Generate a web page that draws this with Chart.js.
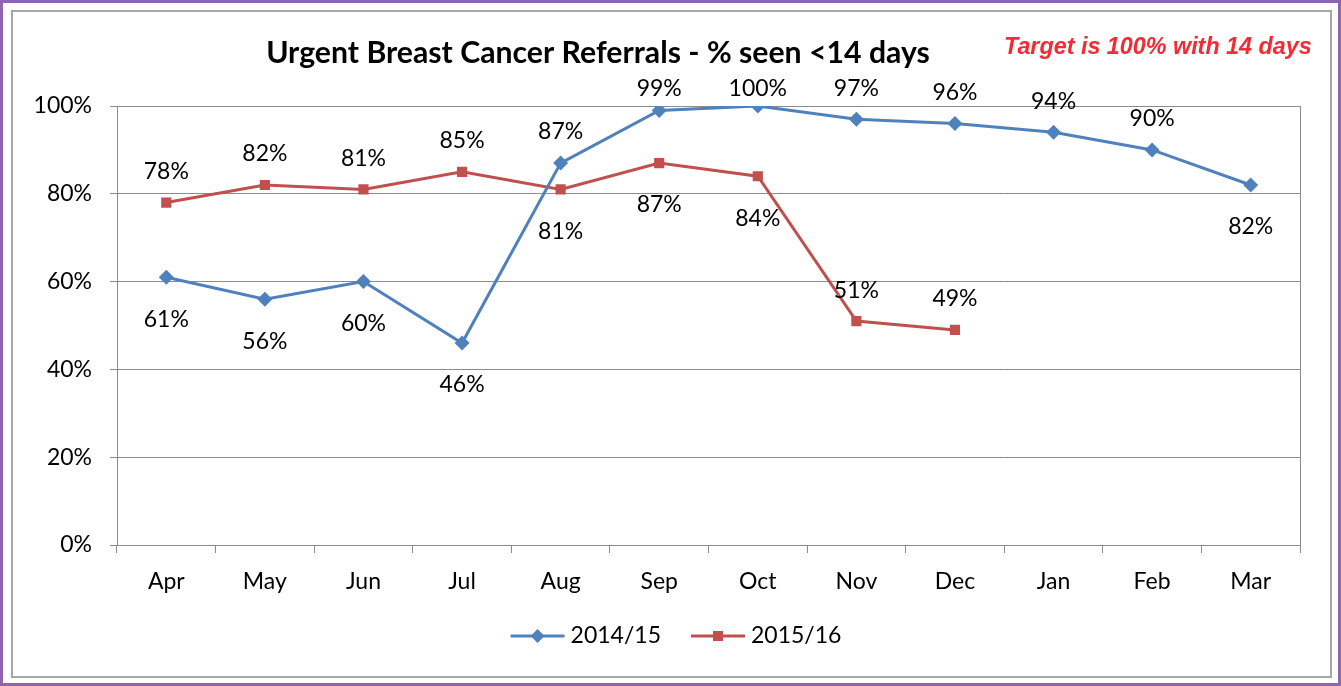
<!DOCTYPE html>
<html><head><meta charset="utf-8">
<script src="https://cdn.jsdelivr.net/npm/chart.js@4"></script>
<style>html,body{margin:0;padding:0;background:#fff;overflow:hidden}#wrap{width:1341px;height:686px}</style>
</head><body><div id="wrap"><canvas id="c" width="1341" height="686"></canvas></div>
<script>
const months = ['Apr','May','Jun','Jul','Aug','Sep','Oct','Nov','Dec','Jan','Feb','Mar'];
const series2014 = [61,56,60,46,87,99,100,97,96,94,90,82];
const series2015 = [78,82,81,85,81,87,84,51,49,null,null,null];
const seriesNames = ['2014/15','2015/16'];
const yTickValues = [0,20,40,60,80,100];
const titleText = 'Urgent Breast Cancer Referrals - % seen <14 days';
const noteText = 'Target is 100% with 14 days';
// label placement (style only)
const labelSide2014 = ['below','below','below','below','above','above','above','above','above','above','above','below'];
const labelSide2015 = ['above','above','above','above','below','below','below','above','above'];

const FONT = 'Lato, "Open Sans", sans-serif';
const BLUE = '#4f81bd', RED = '#c0504d', GRID = '#8c8c8c';

function fitFont(ctx, text, weight, style, family, targetW) {
  let size = 30;
  ctx.font = `${style} ${weight} ${size}px ${family}`;
  const w = ctx.measureText(text).width;
  return size * targetW / w;
}

const framePlugin = {
  id: 'frame',
  beforeDraw(chart) {
    const ctx = chart.ctx;
    ctx.save();
    ctx.fillStyle = '#fff';
    ctx.fillRect(0, 0, chart.width, chart.height);
    ctx.strokeStyle = '#a6a6a6';
    ctx.lineWidth = 2;
    ctx.strokeRect(12, 11, 1319, 666);
    ctx.strokeStyle = '#8f64b3';
    ctx.lineWidth = 6;
    ctx.strokeRect(0, 0, chart.width, chart.height);
    ctx.restore();
  },
  afterDraw(chart) {
    const ctx = chart.ctx, a = chart.chartArea;
    ctx.save();
    ctx.strokeStyle = GRID;
    ctx.lineWidth = 1;
    ctx.beginPath();
    ctx.moveTo(a.right + 0.5, a.top);
    ctx.lineTo(a.right + 0.5, a.bottom);
    ctx.stroke();
    // title
    let fs = fitFont(ctx, titleText, 'bold', 'normal', FONT, 664);
    ctx.font = `bold ${fs}px ${FONT}`;
    ctx.fillStyle = '#000';
    ctx.textAlign = 'center';
    ctx.textBaseline = 'middle';
    ctx.fillText(titleText, 598, 53);
    // note
    fs = fitFont(ctx, noteText, 'bold', 'italic', '"Liberation Sans", Arial, sans-serif', 308);
    ctx.font = `italic bold ${fs}px "Liberation Sans", Arial, sans-serif`;
    ctx.fillStyle = '#f42a35';
    ctx.textAlign = 'left';
    ctx.fillText(noteText, 1004, 48);
    // legend
    ctx.font = `23px ${FONT}`;
    const items = chart.data.datasets.map(d => ({label: d.label, color: d.borderColor, style: d.pointStyle}));
    const lineW = 54, gapT = 6, gapItem = 30;
    const widths = items.map(it => lineW + gapT + ctx.measureText(it.label).width);
    const total = widths.reduce((s, w) => s + w, 0) + gapItem * (items.length - 1);
    let x = 676 - total / 2;
    const y = 636;
    items.forEach((it, i) => {
      ctx.strokeStyle = it.color;
      ctx.lineWidth = 3;
      ctx.beginPath();
      ctx.moveTo(x, y); ctx.lineTo(x + lineW, y); ctx.stroke();
      ctx.fillStyle = it.color;
      ctx.beginPath();
      if (it.style === 'rectRot') {
        ctx.moveTo(x + lineW/2 - 7, y); ctx.lineTo(x + lineW/2, y - 7); ctx.lineTo(x + lineW/2 + 7, y); ctx.lineTo(x + lineW/2, y + 7);
      } else {
        ctx.rect(x + lineW/2 - 5, y - 5, 10, 10);
      }
      ctx.closePath(); ctx.fill();
      ctx.fillStyle = '#000';
      ctx.textAlign = 'left';
      ctx.textBaseline = 'middle';
      ctx.fillText(it.label, x + lineW + gapT, y);
      x += widths[i] + gapItem;
    });
    ctx.restore();
  }
};

const labelPlugin = {
  id: 'dlabels',
  afterDatasetsDraw(chart) {
    const ctx = chart.ctx;
    ctx.save();
    ctx.font = `23px ${FONT}`;
    ctx.fillStyle = '#000';
    ctx.textAlign = 'center';
    ctx.textBaseline = 'middle';
    chart.data.datasets.forEach((ds, di) => {
      const meta = chart.getDatasetMeta(di);
      const sides = di === 0 ? labelSide2014 : labelSide2015;
      meta.data.forEach((pt, i) => {
        const v = ds.data[i];
        if (v === null || v === undefined) return;
        let y = sides[i] === 'above' ? pt.y - 31 : pt.y + 42;
        if (y < 89) y = 89;
        ctx.fillText(v + '%', pt.x, y);
      });
    });
    ctx.restore();
  }
};

new Chart(document.getElementById('c'), {
  type: 'line',
  data: {
    labels: months,
    datasets: [
      {label: seriesNames[0], data: series2014, borderColor: BLUE, backgroundColor: BLUE, borderWidth: 3,
       pointStyle: 'rectRot', pointRadius: 7.5, pointBorderWidth: 0, pointBackgroundColor: BLUE, tension: 0, fill: false},
      {label: seriesNames[1], data: series2015, borderColor: RED, backgroundColor: RED, borderWidth: 3,
       pointStyle: 'rect', pointRadius: 7.2, pointBorderWidth: 0, pointBackgroundColor: RED, tension: 0, fill: false, spanGaps: false}
    ]
  },
  options: {
    responsive: false,
    animation: false,
    devicePixelRatio: 1,
    layout: {padding: {top: 106, right: 41, bottom: 81, left: 0}},
    plugins: {legend: {display: false}, title: {display: false}, tooltip: {enabled: false}},
    scales: {
      x: {
        offset: true,
        grid: {display: true, drawOnChartArea: false, drawTicks: true, tickLength: 8, color: GRID, offset: true},
        border: {color: GRID, width: 1},
        ticks: {font: {family: FONT, size: 23}, color: '#000', padding: 15, maxRotation: 0},
        afterFit(s) { s.height = 60; }
      },
      y: {
        min: 0, max: 100,
        afterBuildTicks(s) { s.ticks = yTickValues.map(v => ({value: v})); },
        grid: {color: GRID, tickLength: 7},
        border: {color: GRID, width: 1},
        ticks: {font: {family: FONT, size: 23}, color: '#000', padding: 18, callback: v => v + '%'},
        afterFit(s) { s.width = 117; }
      }
    }
  },
  plugins: [framePlugin, labelPlugin]
});
</script>
</body></html>
